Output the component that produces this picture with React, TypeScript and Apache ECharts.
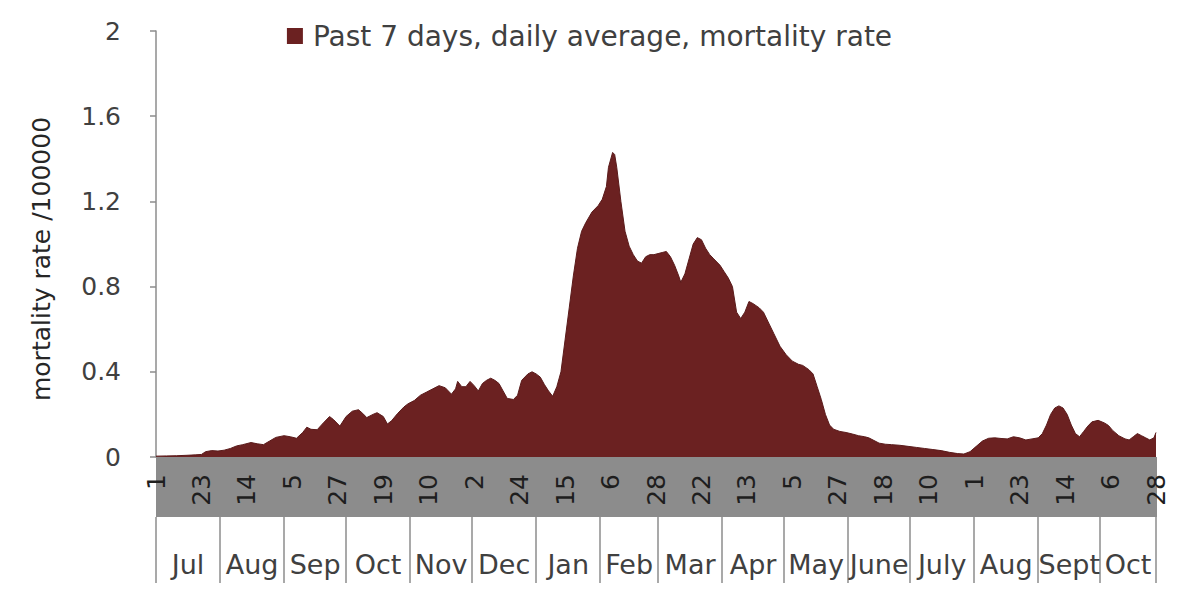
import React, { useEffect, useRef } from "react";
import * as echarts from "echarts";

// Day index counted from 1 July 2020 (0) to 28 October 2021 (484)
const sampleDays = [0,5,10,15,19,22,24,27,30,33,36,39,42,46,49,52,55,58,62,65,68,71,73,75,78,81,84,86,89,92,95,98,100,102,105,107,110,112,114,117,120,122,125,128,131,134,137,140,143,145,146,148,150,152,154,156,158,160,162,164,166,168,170,173,175,177,180,182,184,186,188,190,192,194,196,198,200,202,204,206,208,211,214,216,218,219,221,222,223,225,227,229,231,233,235,237,239,241,243,245,247,249,251,253,254,256,258,260,262,264,266,268,270,273,275,277,279,281,283,285,287,289,292,294,297,299,302,305,308,311,313,316,318,320,322,324,326,328,331,334,337,340,343,345,348,350,353,356,360,364,368,372,376,380,384,388,391,394,397,400,403,406,409,412,415,418,421,424,427,429,431,433,435,437,439,441,443,445,447,449,451,453,456,459,461,463,466,469,471,473,475,477,479,481,483,484];

const mortalityRate = [0.004,0.005,0.006,0.008,0.010,0.012,0.025,0.030,0.028,0.032,0.040,0.052,0.058,0.068,0.062,0.058,0.075,0.092,0.100,0.095,0.088,0.115,0.140,0.130,0.128,0.160,0.190,0.175,0.145,0.190,0.215,0.222,0.205,0.185,0.200,0.208,0.190,0.155,0.170,0.205,0.235,0.250,0.265,0.290,0.305,0.320,0.335,0.325,0.295,0.320,0.355,0.330,0.330,0.355,0.335,0.310,0.345,0.360,0.370,0.360,0.345,0.310,0.275,0.270,0.290,0.360,0.390,0.400,0.390,0.375,0.340,0.310,0.285,0.330,0.400,0.550,0.700,0.850,0.980,1.060,1.100,1.150,1.180,1.210,1.270,1.360,1.430,1.420,1.360,1.200,1.060,0.990,0.950,0.920,0.910,0.940,0.950,0.950,0.955,0.960,0.965,0.940,0.900,0.850,0.820,0.860,0.930,1.000,1.030,1.020,0.980,0.950,0.930,0.900,0.870,0.840,0.800,0.680,0.650,0.680,0.730,0.720,0.700,0.680,0.620,0.580,0.520,0.480,0.450,0.435,0.430,0.410,0.390,0.330,0.270,0.200,0.150,0.130,0.120,0.115,0.108,0.100,0.095,0.090,0.075,0.065,0.060,0.058,0.055,0.050,0.045,0.040,0.035,0.030,0.022,0.016,0.014,0.025,0.050,0.075,0.088,0.090,0.087,0.085,0.095,0.090,0.080,0.085,0.090,0.110,0.150,0.200,0.230,0.240,0.230,0.200,0.150,0.110,0.095,0.120,0.145,0.165,0.172,0.160,0.148,0.125,0.100,0.085,0.080,0.095,0.110,0.100,0.090,0.080,0.090,0.115];

const dayTickStep = 22;
const dayTickLabels = ["1","23","14","5","27","19","10","2","24","15","6","28","22","13","5","27","18","10","1","23","14","6","28"];

const monthStarts = [0,31,62,92,123,153,184,215,243,274,304,335,365,396,427,457,484];
const monthLabels = ["Jul","Aug","Sep","Oct","Nov","Dec","Jan","Feb","Mar","Apr","May","June","July","Aug","Sept","Oct"];

const yTicks = { min: 0, max: 2, interval: 0.4 };
const seriesName = "Past 7 days, daily average, mortality rate";
const yTitle = "mortality rate /100000";

const FONT = "DejaVu Sans";
const RED = "#6b2121";
const AXIS = "#8c8c8c";
const TEXT = "#404040";

const W = 1179;
const H = 596;
const GRID = { left: 156, right: 23, top: 31, bottom: 139 };
const BAND_H = 60;

export default function App() {
  const ref = useRef<HTMLDivElement>(null);

  useEffect(() => {
    if (!ref.current) return;
    const chart = echarts.init(ref.current, undefined, { renderer: "svg" });
    const data = sampleDays.map((d, i) => [d, mortalityRate[i]]);
    const monthMids = monthLabels.map((_, i) => (monthStarts[i] + monthStarts[i + 1]) / 2);
    const xMax = monthStarts[monthStarts.length - 1];
    const plotBottom = H - GRID.bottom;

    chart.setOption({
      animation: false,
      backgroundColor: "#ffffff",
      textStyle: { fontFamily: FONT },
      legend: {
        show: true,
        left: "center",
        top: 17,
        icon: "rect",
        itemWidth: 16,
        itemHeight: 16,
        textStyle: { fontFamily: FONT, fontSize: 28, color: TEXT, padding: [0, 0, 0, 5] },
        data: [seriesName],
      },
      grid: { ...GRID, containLabel: false },
      graphic: [
        {
          type: "rect",
          z: 5,
          shape: { x: GRID.left, y: plotBottom, width: W - GRID.left - GRID.right + 1, height: BAND_H },
          style: { fill: "#8c8c8c" },
        },
      ],
      xAxis: [
        {
          type: "value",
          min: 0,
          max: xMax,
          interval: dayTickStep,
          z: 10,
          splitLine: { show: false },
          axisLine: { show: false },
          axisTick: { show: false },
          axisLabel: {
            rotate: 90,
            margin: 17,
            fontFamily: FONT,
            fontSize: 25,
            color: "#1e1e1e",
            showMinLabel: true,
            showMaxLabel: true,
            formatter: (v: number) => dayTickLabels[Math.round(v / dayTickStep)] ?? "",
          },
        },
        {
          type: "value",
          min: 0,
          max: xMax,
          position: "bottom",
          offset: BAND_H,
          z: 10,
          splitLine: { show: false },
          axisLine: { show: false },
          axisTick: {
            show: true,
            customValues: monthStarts,
            length: 66,
            inside: false,
            lineStyle: { color: AXIS, width: 1.5 },
          },
          axisLabel: {
            customValues: monthMids,
            margin: 34,
            fontFamily: FONT,
            fontSize: 27,
            color: TEXT,
            formatter: (v: number) => {
              const i = monthMids.indexOf(v);
              return i >= 0 ? monthLabels[i] : "";
            },
          },
        },
      ],
      yAxis: {
        type: "value",
        min: yTicks.min,
        max: yTicks.max,
        interval: yTicks.interval,
        name: yTitle,
        nameLocation: "middle",
        nameRotate: 90,
        nameGap: 102,
        nameTextStyle: { fontFamily: FONT, fontSize: 25, color: "#262626", padding: [0, 30, 0, 0] },
        splitLine: { show: false },
        axisLine: { show: true, lineStyle: { color: AXIS, width: 1.5 } },
        axisTick: { show: true, length: 6, lineStyle: { color: AXIS, width: 1.5 } },
        axisLabel: { margin: 35, fontFamily: FONT, fontSize: 25, color: TEXT },
      },
      series: [
        {
          name: seriesName,
          type: "line",
          data,
          showSymbol: false,
          symbol: "none",
          itemStyle: { color: RED },
          lineStyle: { color: "#5a1b1b", width: 1 },
          areaStyle: { color: RED, opacity: 1 },
          z: 2,
        },
      ],
    });

    return () => chart.dispose();
  }, []);

  return (
    <div
      ref={ref}
      style={{ position: "fixed", left: 0, top: 0, width: W, height: H, background: "#fff" }}
    />
  );
}
